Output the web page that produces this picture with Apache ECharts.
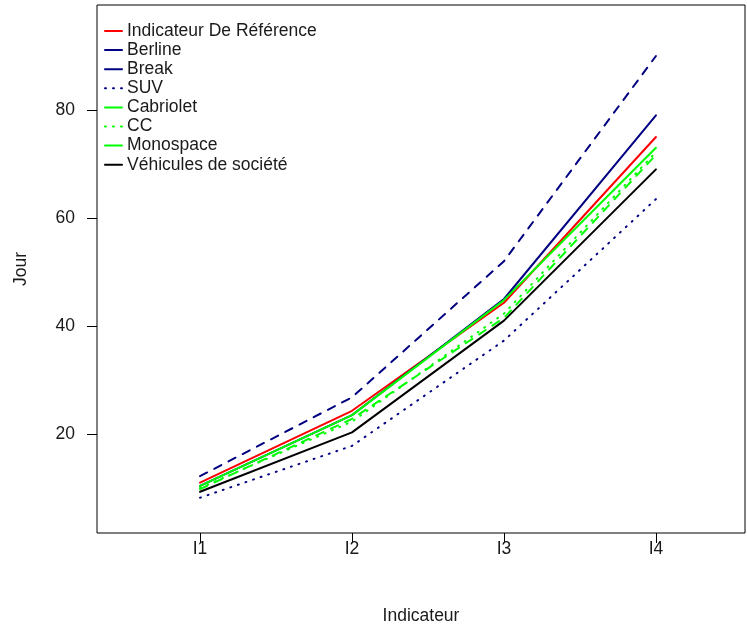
<!DOCTYPE html>
<html>
<head>
<meta charset="utf-8">
<script src="https://cdn.jsdelivr.net/npm/echarts@6/dist/echarts.min.js"></script>
<style>html,body{margin:0;padding:0;background:#fff}#c{width:747px;height:628px}</style>
</head>
<body>
<div id="c"></div>
<script>
var categories = ['I1', 'I2', 'I3', 'I4'];
var yTicks = [20, 40, 60, 80];
var seriesNames = ['Indicateur De Référence', 'Berline', 'Break', 'SUV', 'Cabriolet', 'CC', 'Monospace', 'Véhicules de société'];
var reference = [11, 24.3, 44.3, 75];
var berline = [10.4, 23.5, 45, 79];
var breakVals = [12.2, 26.8, 52, 90];
var suv = [8.2, 17.8, 37.3, 63.5];
var cabriolet = [10.4, 23.5, 44.8, 73];
var cc = [10, 22.3, 42.3, 72.2];
var monospace = [9.8, 22.8, 41.5, 71.7];
var vehicules = [9.3, 20.3, 41, 69];

var allValues = [reference, berline, breakVals, suv, cabriolet, cc, monospace, vehicules];
var colors = ['#ff0000', '#000080', '#000080', '#000080', '#00ff00', '#00ff00', '#00ff00', '#000000'];
var dashes = ['solid', 'solid', [8, 8], [1, 7], 'solid', [1, 7], [8, 8], 'solid'];
var legendDashes = ['solid', 'solid', 'solid', [1, 7], 'solid', [1, 7], 'solid', 'solid'];

var font = 'Liberation Sans, Arial, sans-serif';
var txt = '#1a1a1a';
var fs = 17.5;

var series = seriesNames.map(function (n, i) {
  return {
    name: n,
    type: 'line',
    symbol: 'none',
    animation: false,
    data: allValues[i].map(function (v, j) { return [j, v]; }),
    lineStyle: { color: colors[i], width: 2, type: dashes[i], cap: 'round', join: 'round' },
    itemStyle: { color: colors[i] }
  };
});

var chart = echarts.init(document.getElementById('c'), null, { renderer: 'canvas' });
chart.setOption({
  backgroundColor: '#fff',
  animation: false,
  grid: { left: 97, right: 2, top: 5, bottom: 95, containLabel: false, outerBoundsMode: 'none', show: true, borderColor: '#000', borderWidth: 1, backgroundColor: 'transparent' },
  legend: {
    orient: 'vertical',
    left: 99, top: 17,
    itemWidth: 17, itemHeight: 14, itemGap: 1.1,
    textStyle: { fontFamily: font, fontSize: fs, color: txt },
    data: seriesNames.map(function (n, i) {
      return {
        name: n,
        itemStyle: { color: 'rgba(0,0,0,0)', borderWidth: 0, opacity: 0 },
        lineStyle: { color: colors[i], width: 2, type: legendDashes[i], cap: 'round' }
      };
    })
  },
  xAxis: {
    type: 'value',
    min: -0.678, max: 3.586,
    axisLine: { show: false, onZero: false },
    splitLine: { show: false },
    axisTick: { show: true, length: 10, inside: false, lineStyle: { color: '#000' }, customValues: [0, 1, 2, 3] },
    axisLabel: { customValues: [0, 1, 2, 3], margin: 7, fontFamily: font, fontSize: fs, color: txt, formatter: function (v) { return categories[Math.round(v)]; } },
    name: 'Indicateur', nameLocation: 'middle', nameGap: 74,
    nameTextStyle: { fontFamily: font, fontSize: fs, color: txt }
  },
  yAxis: {
    type: 'value',
    min: 1.67, max: 99.44,
    axisLine: { show: false, onZero: false },
    splitLine: { show: false },
    axisTick: { show: true, length: 10, lineStyle: { color: '#000' }, customValues: yTicks },
    axisLabel: { customValues: yTicks, margin: 22, fontFamily: font, fontSize: fs, color: txt },
    name: 'Jour', nameLocation: 'middle', nameGap: 67, nameRotate: 90,
    nameTextStyle: { fontFamily: font, fontSize: fs, color: txt }
  },
  series: series
});
</script>
</body>
</html>
